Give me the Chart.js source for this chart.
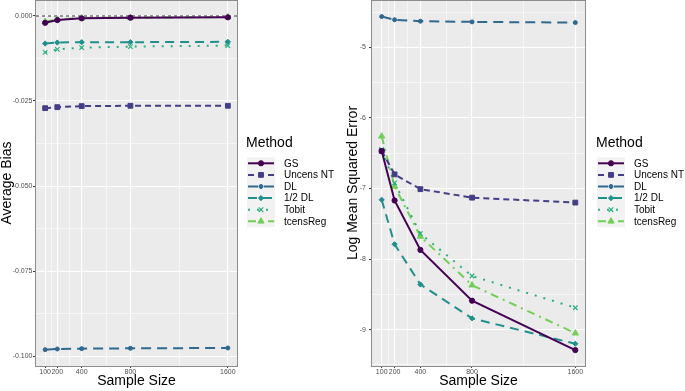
<!DOCTYPE html>
<html><head><meta charset="utf-8">
<script src="https://cdn.jsdelivr.net/npm/chart.js@4.4.0/dist/chart.umd.min.js"></script>
<style>
html,body{margin:0;padding:0;background:#fff;overflow:hidden;}
#wrap{position:relative;width:685px;height:391px;background:#fff;}
canvas{position:absolute;top:0;}
</style></head><body>
<div id="wrap">
<canvas id="c1" width="342" height="391" style="left:0px"></canvas>
<canvas id="c2" width="343" height="391" style="left:342px"></canvas>
</div>
<script>
// ---------- data ----------
const sampleSizes = [100, 200, 400, 800, 1600];
const methods = ['GS', 'Uncens NT', 'DL', '1/2 DL', 'Tobit', 'tcensReg'];

const biasGS       = [-0.0020, -0.0012, -0.0007, -0.0005, -0.0004];
const biasUncensNT = [-0.0271, -0.0268, -0.0265, -0.0264, -0.0264];
const biasDL       = [-0.0981, -0.0979, -0.0978, -0.0977, -0.0976];
const biasHalfDL   = [-0.0081, -0.0078, -0.0077, -0.0077, -0.0076];
const biasTobit    = [-0.0107, -0.0098, -0.0093, -0.0090, -0.0087];
const biasTcensReg = [-0.0017, -0.0010, -0.0006, -0.0005, -0.0003];

const mseGS       = [-6.47, -7.17, -7.87, -8.59, -9.29];
const mseUncensNT = [-6.47, -6.80, -7.01, -7.13, -7.20];
const mseDL       = [-4.565, -4.61, -4.63, -4.64, -4.65];
const mseHalfDL   = [-7.16, -7.79, -8.36, -8.84, -9.20];
const mseTobit    = [-6.45, -6.92, -7.64, -8.24, -8.69];
const mseTcensReg = [-6.26, -6.97, -7.68, -8.37, -9.05];

const xMajorTicks = [100, 200, 400, 800, 1600];
const xMinorTicks = [150, 300, 600, 1200];
const biasMajorTicks = [-0.1, -0.075, -0.05, -0.025, 0];
const biasTickLabels = ['-0.100', '-0.075', '-0.050', '-0.025', '0.000'];
const biasMinorTicks = [-0.0875, -0.0625, -0.0375, -0.0125];
const mseMajorTicks = [-9, -8, -7, -6, -5];
const mseTickLabels = ['-9', '-8', '-7', '-6', '-5'];
const mseMinorTicks = [-9.5, -8.5, -7.5, -6.5, -5.5, -4.5];

// ---------- styles ----------
const FONT = '"Liberation Sans", Arial, Helvetica, sans-serif';
const styles = [
  {color:'#440154', dash:[],          point:'circle',   r:2.6, pbw:1},
  {color:'#433E85', dash:[6,4],       point:'rect',     r:3.4, pbw:1},
  {color:'#31688E', dash:[10,6],      point:'circle',   r:2.0, pbw:1},
  {color:'#21908C', dash:[9,6],       point:'rectRot',  r:2.6, pbw:1},
  {color:'#2AB07F', dash:[2,7],       point:'crossRot', r:3.2, pbw:1.2},
  {color:'#72CF56', dash:[8,5,2,5],   point:'triangle', r:3.6, pbw:1}
];

function makeDatasets(series){
  return series.map((vals, i) => ({
    label: methods[i],
    data: sampleSizes.map((s, j) => ({x: s, y: vals[j]})),
    borderColor: styles[i].color,
    backgroundColor: styles[i].color,
    borderWidth: 2,
    borderDash: styles[i].dash,
    pointStyle: styles[i].point,
    pointRadius: styles[i].r,
    pointBorderWidth: styles[i].pbw,
    pointBackgroundColor: styles[i].color,
    pointBorderColor: styles[i].color,
    tension: 0,
    fill: false
  }));
}

function tickList(major, minor, labels){
  const t = major.map((v, i) => ({value: v, major: true, label: labels[i]}));
  minor.forEach(v => t.push({value: v, major: false, label: ''}));
  t.sort((a, b) => a.value - b.value);
  return t;
}

const panelPlugin = {
  id: 'panel',
  beforeDraw(chart){
    const {ctx, chartArea: a} = chart;
    ctx.save();
    ctx.fillStyle = '#EBEBEB';
    ctx.fillRect(a.left, a.top, a.right - a.left, a.bottom - a.top);
    ctx.restore();
  },
  beforeDatasetsDraw(chart){
    const o = chart.options.plugins.panel;
    if (o.hline === undefined || o.hline === null) return;
    const {ctx, chartArea: a} = chart;
    const y = chart.scales.y.getPixelForValue(o.hline);
    ctx.save();
    ctx.strokeStyle = '#000';
    ctx.lineWidth = 0.8;
    ctx.setLineDash([3, 3]);
    ctx.beginPath(); ctx.moveTo(a.left, y); ctx.lineTo(a.right, y); ctx.stroke();
    ctx.restore();
  },
  afterDraw(chart){
    const o = chart.options.plugins.panel;
    const {ctx, chartArea: a} = chart;
    ctx.save();
    ctx.strokeStyle = '#8C8C8C';
    ctx.lineWidth = 1;
    ctx.strokeRect(a.left - 0.5, a.top + 0.5, a.right - a.left + 1, a.bottom - a.top);
    ctx.restore();
    // legend
    const x0 = o.legendX, dy = 11.6, rowY0 = o.legendRowY;
    const ds = chart.data.datasets;
    ctx.save();
    ctx.fillStyle = '#000';
    ctx.textBaseline = 'middle';
    ctx.textAlign = 'left';
    ctx.font = '14px ' + FONT;
    ctx.fillText('Method', x0 - 1, o.legendTitleY);
    ctx.fillStyle = '#F2F2F2';
    ctx.fillRect(x0, rowY0 - dy / 2, 28, dy * ds.length);
    ds.forEach((d, i) => {
      const y = rowY0 + i * dy;
      ctx.save();
      ctx.strokeStyle = d.borderColor;
      ctx.lineWidth = d.borderWidth;
      ctx.setLineDash(d.borderDash || []);
      ctx.beginPath(); ctx.moveTo(x0 + 1, y); ctx.lineTo(x0 + 27, y); ctx.stroke();
      ctx.restore();
      ctx.save();
      ctx.fillStyle = d.pointBackgroundColor;
      ctx.strokeStyle = d.pointBorderColor;
      ctx.lineWidth = d.pointBorderWidth;
      Chart.helpers.drawPoint(ctx, {pointStyle: d.pointStyle, radius: d.pointRadius, borderWidth: d.pointBorderWidth, rotation: 0}, x0 + 14, y);
      ctx.restore();
      ctx.fillStyle = '#000';
      ctx.font = '10px ' + FONT;
      ctx.fillText(d.label, x0 + 37, y + 0.5);
    });
    ctx.restore();
  }
};

function makeChart(canvasId, series, cfg){
  const xTicks = tickList(xMajorTicks, xMinorTicks, xMajorTicks.map(String));
  const yTicks = tickList(cfg.yMajor, cfg.yMinor, cfg.yLabels);
  const gridColor = () => '#FFFFFF';
  const gridWidth = (c) => (c.tick && c.tick.major) ? 1.1 : 0.55;
  const tickColor = (c) => (c.tick && c.tick.major) ? '#333333' : 'rgba(0,0,0,0)';
  return new Chart(document.getElementById(canvasId), {
    type: 'line',
    data: {datasets: makeDatasets(series)},
    plugins: [panelPlugin],
    options: {
      responsive: false,
      animation: false,
      devicePixelRatio: 1,
      layout: {autoPadding: false, padding: {left: 0, top: 0, bottom: 0, right: cfg.padRight}},
      plugins: {
        legend: {display: false},
        tooltip: {enabled: false},
        panel: {hline: cfg.hline, legendX: cfg.legendX, legendTitleY: 143.5, legendRowY: 163.3}
      },
      scales: {
        x: {
          type: 'linear', min: 25, max: 1675,
          afterBuildTicks: (s) => { s.ticks = xTicks.map(t => ({value: t.value, major: t.major, label: t.label})); },
          afterFit: (s) => { s.height = 25; s.paddingLeft = 0; s.paddingRight = 0; },
          ticks: {autoSkip: false, maxRotation: 0, minRotation: 0, padding: 0,
            font: {family: FONT, size: 7}, color: '#4D4D4D',
            callback: function(v, i, ticks){ return ticks[i].label; }},
          grid: {color: gridColor, lineWidth: gridWidth, tickColor: tickColor, tickWidth: 1, tickLength: 2, drawOnChartArea: true},
          border: {display: false},
          title: {display: true, text: 'Sample Size', color: '#000',
            font: {family: FONT, size: 14, lineHeight: 1}, padding: {top: 0, bottom: 2.5}}
        },
        y: {
          type: 'linear', min: cfg.yMin, max: cfg.yMax,
          afterBuildTicks: (s) => { s.ticks = yTicks.map(t => ({value: t.value, major: t.major, label: t.label})); },
          afterFit: (s) => { s.width = cfg.yWidth; s.paddingTop = 0; s.paddingBottom = 0; },
          ticks: {autoSkip: false, padding: cfg.yTickPad,
            font: {family: FONT, size: 7}, color: '#4D4D4D',
            callback: function(v, i, ticks){ return ticks[i].label; }},
          grid: {color: gridColor, lineWidth: gridWidth, tickColor: tickColor, tickWidth: 1, tickLength: 3, drawOnChartArea: true},
          border: {display: false},
          title: {display: true, text: cfg.yTitle, color: '#000',
            font: {family: FONT, size: 14, lineHeight: 1}, padding: {top: cfg.yTitlePad, bottom: 0}}
        }
      }
    }
  });
}

makeChart('c1',
  [biasGS, biasUncensNT, biasDL, biasHalfDL, biasTobit, biasTcensReg],
  {yMajor: biasMajorTicks, yMinor: biasMinorTicks, yLabels: biasTickLabels,
   yMin: -0.1029, yMax: 0.0047, yTitle: 'Average Bias', yWidth: 36, yTickPad: 0.5, yTitlePad: 0,
   padRight: 105, legendX: 247, hline: 0});

makeChart('c2',
  [mseGS, mseUncensNT, mseDL, mseHalfDL, mseTobit, mseTcensReg],
  {yMajor: mseMajorTicks, yMinor: mseMinorTicks, yLabels: mseTickLabels,
   yMin: -9.515, yMax: -4.33, yTitle: 'Log Mean Squared Error', yWidth: 30, yTickPad: 3, yTitlePad: 4,
   padRight: 100, legendX: 255, hline: null});
</script>
</body></html>
